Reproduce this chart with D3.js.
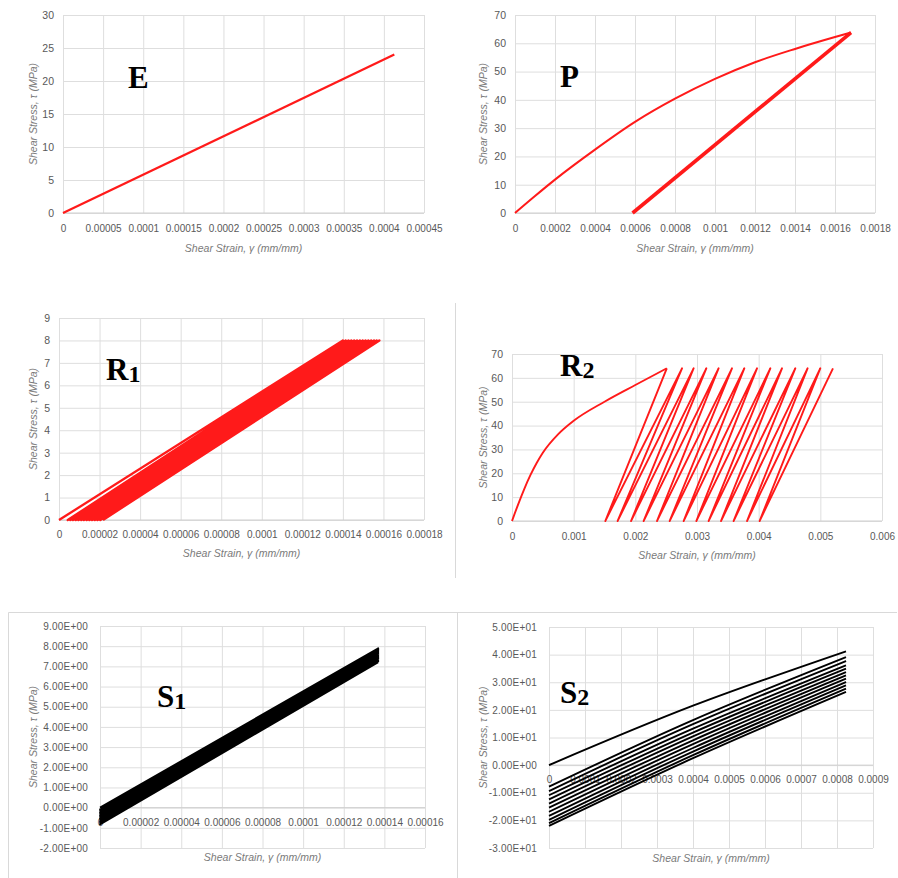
<!DOCTYPE html>
<html><head><meta charset="utf-8">
<script src="https://cdn.jsdelivr.net/npm/d3@7"></script>
<style>body{margin:0;background:#fff}svg{display:block}</style>
</head><body>
<svg id="c" width="898" height="878"></svg>
<script>
// ---------------- DATA ----------------
// E : elastic
const eStrain = [0, 0.000413];
const eStress = [0, 24];
const eXTicks = [0, 0.00005, 0.0001, 0.00015, 0.0002, 0.00025, 0.0003, 0.00035, 0.0004, 0.00045];
const eYTicks = [0, 5, 10, 15, 20, 25, 30];

// P : plastic (load curve + elastic unload)
const pLoadStrain = [0, 0.0001, 0.0002, 0.0004, 0.0006, 0.0008, 0.001, 0.0012, 0.0014, 0.0016, 0.00168];
const pLoadStress = [0, 6.0, 11.8, 22.4, 32.2, 40.4, 47.4, 53.3, 58.0, 62.2, 63.8];
const pUnloadStrain = [0.00168, 0.000588];
const pUnloadStress = [63.8, 0];
const pXTicks = [0, 0.0002, 0.0004, 0.0006, 0.0008, 0.001, 0.0012, 0.0014, 0.0016, 0.0018];
const pYTicks = [0, 10, 20, 30, 40, 50, 60, 70];

// R1 : cycles at 8 MPa
const r1PeakStress = 8;
const r1Peaks = [0.000140, 0.0001414, 0.0001428, 0.0001442, 0.0001456, 0.000147, 0.0001484,
                 0.0001498, 0.0001512, 0.0001526, 0.000154, 0.0001554, 0.0001567, 0.000158];
const r1Bottoms = [0.0000043, 0.0000056, 0.0000069, 0.0000083, 0.0000096, 0.000011, 0.0000123,
                   0.0000137, 0.000015, 0.0000163, 0.0000177, 0.000019, 0.0000204, 0.0000217];
const r1XTicks = [0, 0.00002, 0.00004, 0.00006, 0.00008, 0.0001, 0.00012, 0.00014, 0.00016, 0.00018];
const r1YTicks = [0, 1, 2, 3, 4, 5, 6, 7, 8, 9];

// R2 : ratcheting at 64 MPa
const r2CurveStrain = [0, 0.0001, 0.0002, 0.0003, 0.0004, 0.0005, 0.00075, 0.001, 0.0015, 0.002, 0.00251];
const r2CurveStress = [0, 7.0, 13.5, 19.3, 24.3, 28.6, 36.4, 42.0, 50.0, 57.0, 64];
const r2PeakStress = 64;
const r2Peaks = [0.00251, 0.002757, 0.002945, 0.003151, 0.00335, 0.003567, 0.003767,
                 0.003973, 0.004189, 0.004378, 0.004594, 0.004793, 0.004999, 0.005205];
const r2Bottoms = [0.001513, 0.001712, 0.00193, 0.002134, 0.002351, 0.002556, 0.002783,
                   0.002989, 0.003188, 0.003389, 0.003593, 0.003811, 0.004015];
const r2XTicks = [0, 0.001, 0.002, 0.003, 0.004, 0.005, 0.006];
const r2YTicks = [0, 10, 20, 30, 40, 50, 60, 70];

// S1 : shakedown cycles
const s1StrainRange = [0, 0.000137];
const s1Low  = [0, -0.08, -0.15, -0.23, -0.30, -0.38, -0.45, -0.53, -0.60, -0.68, -0.75, -0.83];
const s1High = [7.9, 7.84, 7.78, 7.71, 7.65, 7.58, 7.52, 7.45, 7.39, 7.32, 7.26, 7.2];
const s1XTicks = [0, 0.00002, 0.00004, 0.00006, 0.00008, 0.0001, 0.00012, 0.00014, 0.00016];
const s1YTicks = [-2, -1, 0, 1, 2, 3, 4, 5, 6, 7, 8, 9];

// S2 : shakedown with relaxation
const s2Strain = [0, 0.0004, 0.000825];
const s2Start = [0, -7.8, -9.4, -10.9, -12.4, -13.9, -15.4, -16.9, -18.4, -19.8, -21.0, -22.0];
const s2Mid   = [21.5, 16.3, 14.8, 13.2, 11.8, 10.4, 9.0, 7.6, 6.2, 4.9, 3.6, 2.5];
const s2End   = [41.2, 39.1, 37.7, 36.1, 34.9, 33.7, 32.5, 31.3, 30.1, 28.9, 27.7, 26.5];
const s2XTicks = [0, 0.0001, 0.0002, 0.0003, 0.0004, 0.0005, 0.0006, 0.0007, 0.0008, 0.0009];
const s2YTicks = [-30, -20, -10, 0, 10, 20, 30, 40, 50];

const xTitle = "Shear Strain, γ (mm/mm)";
const yTitle = "Shear Stress, τ (MPa)";

// ---------------- DRAW ----------------
const svg = d3.select("#c");
svg.append("rect").attr("width", 898).attr("height", 878).attr("fill", "#fff");

// panel frames (bottom row chart borders, middle divider)
const frame = svg.append("g").attr("stroke", "#d9d9d9").attr("fill", "none");
frame.append("path").attr("d", "M8.5,878V612.5H897");
frame.append("path").attr("d", "M457.5,612.5V878");
frame.append("path").attr("d", "M455.5,303V578");

const sciFmt = v => v.toExponential(2).replace(/e([+-])(\d)$/, (m, s, d) => "E" + s + "0" + d);
const plainFmt = v => String(v);
const FONT = "'Liberation Sans', Arial, sans-serif";

function panel(p) {
  const x = d3.scaleLinear().domain(p.xd).range([p.l, p.r]);
  const y = d3.scaleLinear().domain(p.yd).range([p.b, p.t]);
  const g = svg.append("g");

  // grid via axes
  const gx = g.append("g").attr("transform", `translate(0,${p.b})`)
    .call(d3.axisBottom(x).tickValues(p.xt).tickSize(-(p.b - p.t)).tickFormat(""));
  const gy = g.append("g").attr("transform", `translate(${p.l},0)`)
    .call(d3.axisLeft(y).tickValues(p.yt).tickSize(-(p.r - p.l)).tickFormat(""));
  [gx, gy].forEach(a => {
    a.select(".domain").remove();
    a.selectAll("line").attr("stroke", "#dedede").attr("stroke-width", 1);
  });
  g.append("line").attr("x1", p.l).attr("x2", p.r).attr("y1", y(0)).attr("y2", y(0))
    .attr("stroke", "#cfcfcf");

  // y tick labels
  const ly = g.append("g").attr("transform", `translate(${p.l},0)`)
    .call(d3.axisLeft(y).tickValues(p.yt).tickSize(0).tickPadding(p.ypad).tickFormat(p.yf));
  // x tick labels at y=0
  const lx = g.append("g").attr("transform", `translate(0,${y(0)})`)
    .call(d3.axisBottom(x).tickValues(p.xt).tickSize(0).tickPadding(p.xpad).tickFormat(p.xf));
  [lx, ly].forEach(a => {
    a.select(".domain").remove();
    a.selectAll("text").attr("fill", "#595959").attr("font-family", FONT)
      .attr("font-size", "10px").attr("letter-spacing", "0px");
  });
  ly.selectAll("text").attr("font-size", p.yfs || "10.5px").attr("letter-spacing", p.yls || "0px");

  // axis titles
  g.append("text").attr("x", (p.l + p.r) / 2).attr("y", p.xty)
    .attr("text-anchor", "middle").attr("font-family", FONT).attr("font-style", "italic")
    .attr("font-size", "10.5px").attr("fill", "#7a7a7a").text(xTitle);
  g.append("text").attr("transform", `translate(${p.ytx},${(p.t + p.b) / 2}) rotate(-90)`)
    .attr("dy", "0.35em").attr("text-anchor", "middle").attr("font-family", FONT)
    .attr("font-style", "italic").attr("font-size", "10.5px").attr("fill", "#7a7a7a").text(yTitle);

  // panel letter
  const t = g.append("text").attr("x", p.lx).attr("y", p.lyb)
    .attr("font-family", "'Liberation Serif', 'Times New Roman', serif")
    .attr("font-weight", "bold").attr("font-size", "31px").attr("fill", "#000");
  t.append("tspan").text(p.letter);
  if (p.sub) t.append("tspan").attr("font-size", "24px").attr("dy", 2).text(p.sub);

  return { x, y, g };
}

function drawLine(P, pts, color, w, curve) {
  P.g.append("path").datum(pts)
    .attr("d", d3.line().x(d => P.x(d[0])).y(d => P.y(d[1])).curve(curve || d3.curveLinear))
    .attr("fill", "none").attr("stroke", color).attr("stroke-width", w)
    .attr("stroke-linejoin", "round").attr("stroke-linecap", "butt");
}
const RED = "#ff1a1a";

// E
const PE = panel({ l: 63, r: 424, t: 15, b: 213, xd: [0, 0.00045], yd: [0, 30], xt: eXTicks, yt: eYTicks,
  xf: plainFmt, yf: plainFmt, xpad: 12, ypad: 9, xty: 252, ytx: 33, letter: "E", lx: 128, lyb: 88 });
drawLine(PE, d3.zip(eStrain, eStress), RED, 2.2);

// P
const PP = panel({ l: 515, r: 875, t: 15, b: 213, xd: [0, 0.0018], yd: [0, 70], xt: pXTicks, yt: pYTicks,
  xf: plainFmt, yf: plainFmt, xpad: 12, ypad: 9, xty: 252, ytx: 483, letter: "P", lx: 560, lyb: 87 });
drawLine(PP, d3.zip(pLoadStrain, pLoadStress), RED, 2.0, d3.curveMonotoneX);
drawLine(PP, d3.zip(pUnloadStrain, pUnloadStress), RED, 3.6);

// R1
const PR1 = panel({ l: 59, r: 424, t: 318, b: 520, xd: [0, 0.00018], yd: [0, 9], xt: r1XTicks, yt: r1YTicks,
  xf: plainFmt, yf: plainFmt, xpad: 11, ypad: 9, xty: 557, ytx: 33, letter: "R", sub: "1", lx: 106, lyb: 380 });
{
  const pts = [[0, 0]];
  r1Peaks.forEach((pk, i) => { pts.push([pk, r1PeakStress]); pts.push([r1Bottoms[i], 0]); });
  drawLine(PR1, pts, RED, 2.3);
}

// R2
const PR2 = panel({ l: 512, r: 882, t: 354, b: 521, xd: [0, 0.006], yd: [0, 70], xt: r2XTicks, yt: r2YTicks,
  xf: plainFmt, yf: plainFmt, xpad: 12, ypad: 9, xty: 559, ytx: 483, letter: "R", sub: "2", lx: 560, lyb: 376 });
drawLine(PR2, d3.zip(r2CurveStrain, r2CurveStress), RED, 1.9, d3.curveMonotoneX);
{
  const pts = [[r2Peaks[0], r2PeakStress]];
  r2Bottoms.forEach((bt, i) => { pts.push([bt, 0]); pts.push([r2Peaks[i + 1], r2PeakStress]); });
  drawLine(PR2, pts, RED, 1.9);
}

// S1
const PS1 = panel({ l: 100, r: 425, t: 626, b: 848, xd: [0, 0.00016], yd: [-2, 9], xt: s1XTicks, yt: s1YTicks,
  xf: plainFmt, yf: sciFmt, xpad: 11, ypad: 12, yfs: "10px", yls: "0.2px", xty: 861, ytx: 33,
  letter: "S", sub: "1", lx: 157, lyb: 707 });
{
  const pts = [];
  s1Low.forEach((lo, i) => { pts.push([s1StrainRange[0], lo]); pts.push([s1StrainRange[1], s1High[i]]); });
  drawLine(PS1, pts, "#000", 1.8);
}

// S2
const PS2 = panel({ l: 549, r: 873, t: 627, b: 848, xd: [0, 0.0009], yd: [-30, 50], xt: s2XTicks, yt: s2YTicks,
  xf: plainFmt, yf: sciFmt, xpad: 11, ypad: 12, yfs: "10px", yls: "0.2px", xty: 862, ytx: 483,
  letter: "S", sub: "2", lx: 560, lyb: 703 });
s2Start.forEach((st, i) => {
  drawLine(PS2, d3.zip(s2Strain, [st, s2Mid[i], s2End[i]]), "#000", 1.9, d3.curveNatural);
});
</script>
</body></html>
